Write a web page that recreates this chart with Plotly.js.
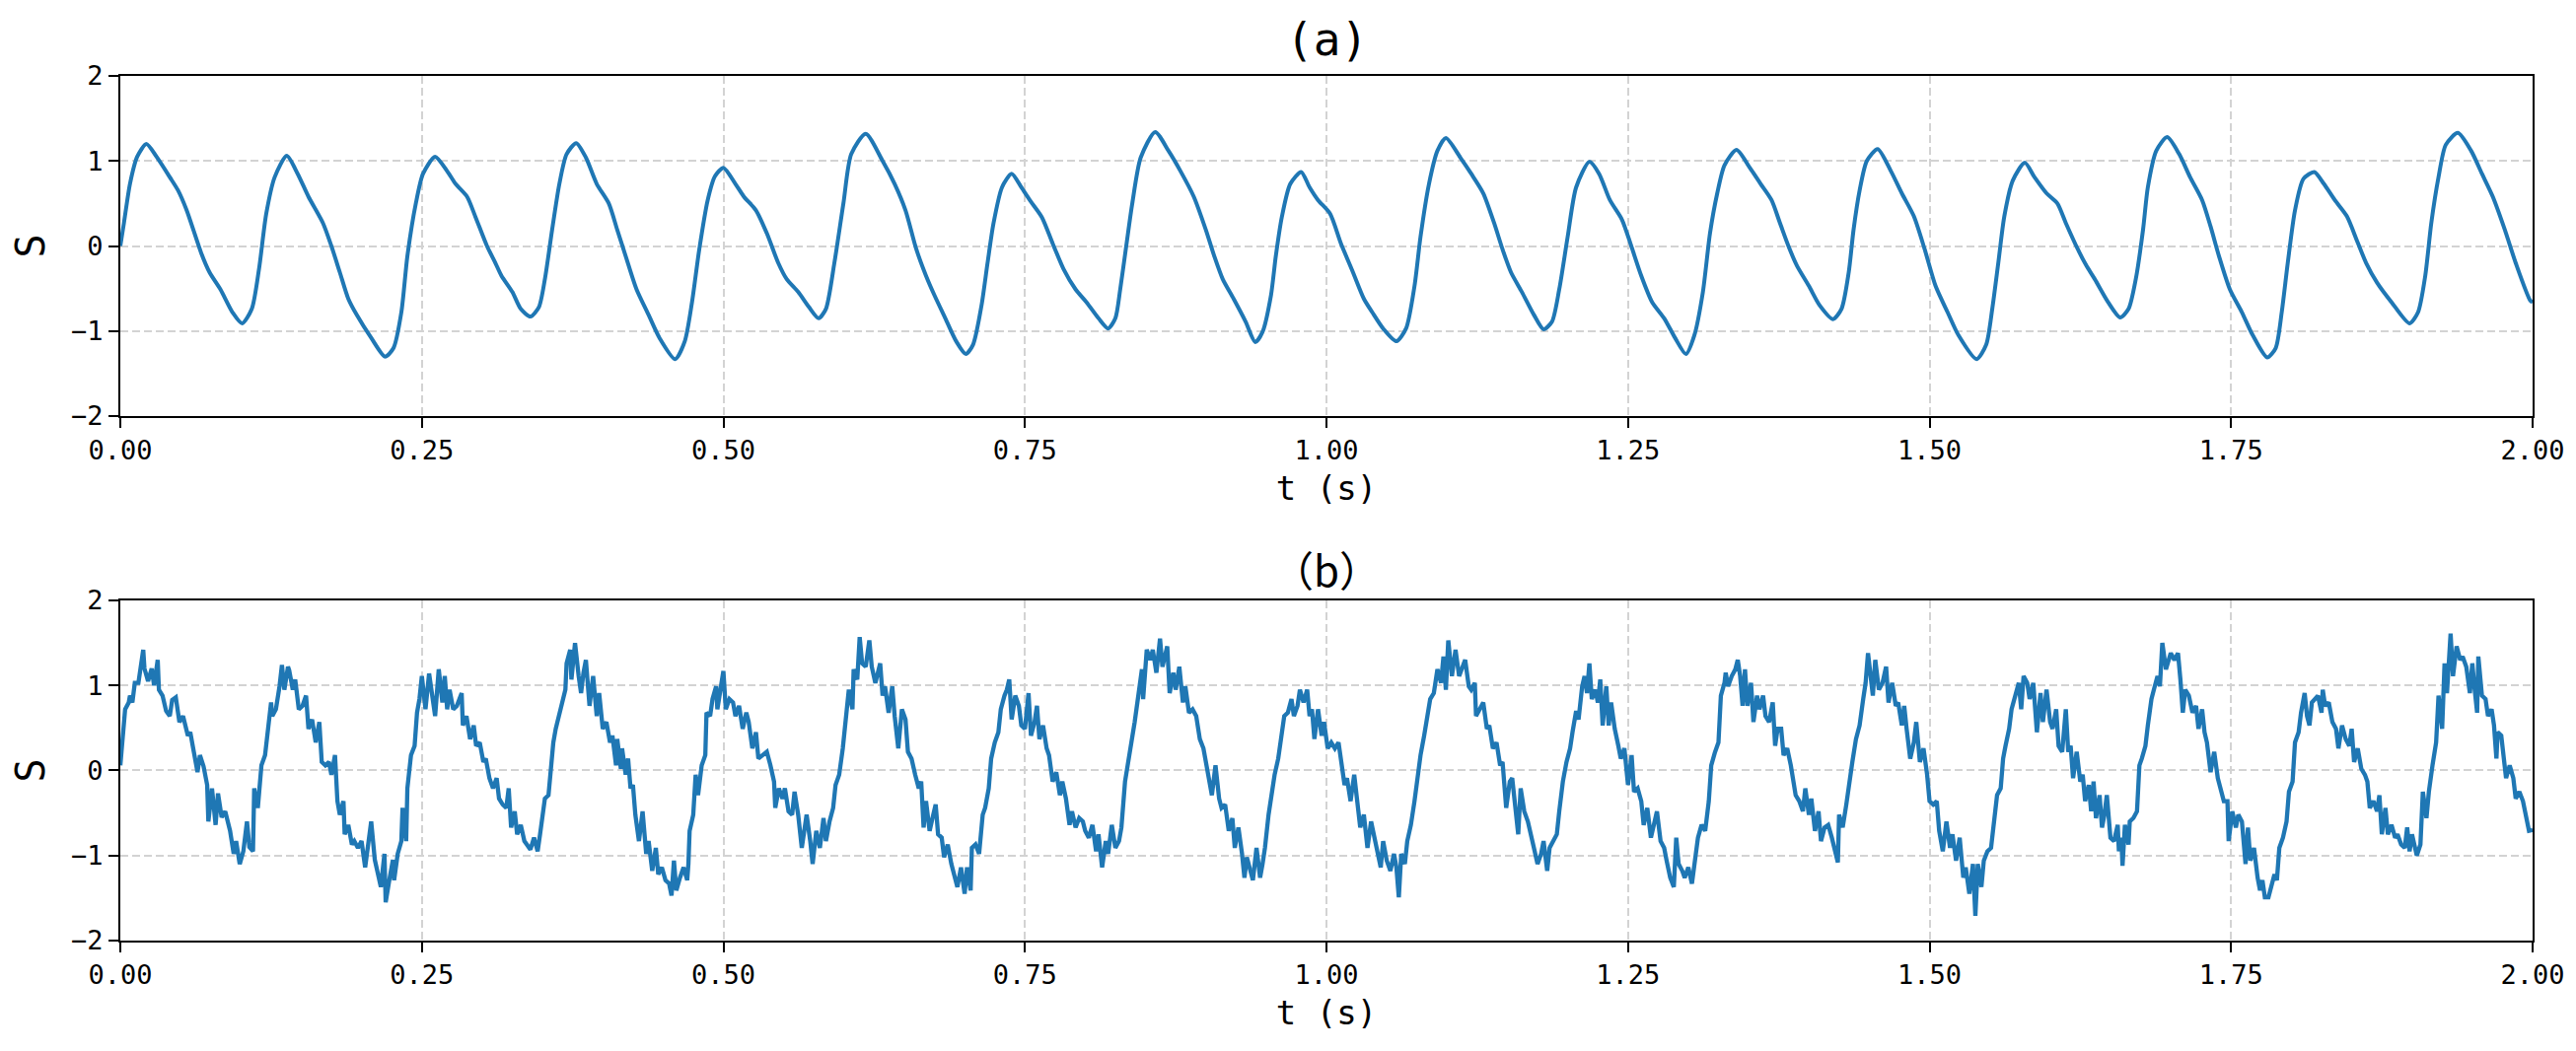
<!DOCTYPE html>
<html>
<head>
<meta charset="utf-8">
<script src="https://cdn.plot.ly/plotly-3.0.1.min.js"></script>
<style>html,body{margin:0;padding:0;background:#fff;}#chart{width:2612px;height:1066px;}</style>
</head>
<body>
<div id="chart"></div>
<script>
// ---- Panel (a): clean signal ----
const tA = [0.000,0.003,0.008,0.014,0.0216,0.030,0.041,0.048,0.055,0.067,0.074,0.083,0.093,0.101,0.109,0.115,0.121,0.128,0.138,
0.147,0.156,0.168,0.175,0.182,0.189,0.196,0.208,0.2195,0.2265,0.233,0.238,0.245,0.251,0.261,
0.271,0.278,0.2875,0.2945,0.304,0.311,0.316,0.325,0.332,0.340,0.347,0.352,0.358,0.364,0.370,0.378,
0.386,0.395,0.405,0.412,0.419,0.428,0.438,0.447,0.460,0.468,0.474,0.480,0.487,0.493,0.500,
0.510,0.517,0.527,0.536,0.5455,0.5525,0.562,0.571,0.579,0.585,0.592,0.5995,0.606,0.618,
0.632,0.642,0.651,0.660,0.668,0.675,0.684,0.693,0.701,0.707,0.714,0.719,0.724,0.731,0.739,
0.747,0.754,0.764,0.773,0.782,0.792,0.801,0.811,0.819,0.825,0.829,0.834,0.839,0.846,0.858,
0.869,0.879,0.890,0.900,0.907,0.914,0.923,0.933,0.941,0.947,0.954,0.958,0.963,0.970,0.979,
0.986,0.993,1.003,1.012,1.022,1.031,1.038,1.047,1.058,1.066,1.073,1.078,1.085,1.092,1.099,
1.111,1.120,1.130,1.139,1.146,1.153,1.162,1.172,1.180,1.187,1.193,1.200,1.207,1.218,
1.226,1.235,1.245,1.252,1.261,1.270,1.280,1.289,1.298,1.305,1.312,1.318,1.324,1.330,1.340,
1.351,1.360,1.369,1.376,1.383,1.390,1.400,1.409,1.420,1.427,1.433,1.437,1.442,1.448,1.457,
1.468,1.477,1.487,1.496,1.505,1.515,1.524,1.539,1.547,1.552,1.557,1.562,1.569,1.579,
1.587,1.597,1.606,1.613,1.623,1.630,1.637,1.648,1.658,1.665,1.671,1.677,1.681,1.688,1.697,
1.707,1.716,1.726,1.733,1.740,1.749,1.759,1.768,1.780,1.787,1.792,1.797,1.803,1.810,1.819,
1.827,1.836,1.846,1.855,1.862,1.871,1.883,1.898,1.905,1.911,1.916,1.922,1.928,1.938,
1.949,1.958,1.967,1.977,1.986,1.998,2.000];
const sA = [0.00,0.27,0.73,1.05,1.20,1.05,0.81,0.65,0.42,-0.08,-0.31,-0.51,-0.78,-0.91,-0.74,-0.27,0.38,0.81,1.06,
0.85,0.58,0.27,0.00,-0.31,-0.62,-0.81,-1.08,-1.30,-1.20,-0.78,-0.12,0.50,0.85,1.05,
0.88,0.73,0.58,0.34,0.00,-0.20,-0.35,-0.54,-0.74,-0.83,-0.72,-0.39,0.19,0.73,1.08,1.21,
1.04,0.73,0.50,0.19,-0.12,-0.51,-0.81,-1.08,-1.33,-1.12,-0.66,-0.04,0.54,0.82,0.92,
0.73,0.58,0.42,0.15,-0.20,-0.39,-0.54,-0.72,-0.85,-0.74,-0.20,0.50,1.08,1.32,
1.00,0.73,0.42,-0.04,-0.35,-0.58,-0.85,-1.12,-1.27,-1.16,-0.70,-0.20,0.27,0.69,0.85,
0.69,0.54,0.34,0.03,-0.27,-0.51,-0.66,-0.85,-0.97,-0.85,-0.51,0.00,0.50,1.04,1.34,
1.12,0.88,0.58,0.19,-0.12,-0.39,-0.62,-0.89,-1.13,-1.01,-0.58,-0.12,0.34,0.73,0.87,
0.69,0.54,0.38,0.03,-0.31,-0.62,-0.78,-0.97,-1.12,-0.97,-0.47,0.11,0.73,1.12,1.27,
1.04,0.85,0.62,0.27,-0.04,-0.31,-0.54,-0.81,-0.98,-0.89,-0.51,0.11,0.69,0.99,
0.85,0.54,0.31,0.03,-0.35,-0.66,-0.85,-1.08,-1.27,-1.05,-0.55,0.15,0.62,0.95,1.13,
0.92,0.73,0.54,0.27,0.00,-0.23,-0.47,-0.70,-0.86,-0.74,-0.31,0.19,0.65,1.00,1.14,
0.88,0.62,0.35,-0.04,-0.47,-0.78,-1.05,-1.33,-1.16,-0.74,-0.20,0.35,0.77,0.98,
0.81,0.62,0.50,0.27,-0.04,-0.23,-0.39,-0.66,-0.84,-0.74,-0.39,0.19,0.69,1.12,1.28,
1.08,0.81,0.54,0.23,-0.12,-0.51,-0.78,-1.05,-1.31,-1.20,-0.78,-0.20,0.42,0.79,0.87,
0.73,0.54,0.35,0.04,-0.20,-0.43,-0.66,-0.91,-0.78,-0.35,0.27,0.81,1.19,1.33,
1.12,0.85,0.58,0.19,-0.20,-0.64,-0.66];

// ---- Panel (b): noisy signal ----
const tB = [0.000,0.001,0.003,0.004,0.007,0.008,0.010,0.012,0.015,0.017,0.019,0.020,0.023,0.026,0.028,0.031,0.032,0.035,0.038,0.041,
0.043,0.046,0.049,0.052,0.056,0.058,0.061,0.064,0.066,0.069,0.072,0.073,0.076,0.079,0.081,0.084,0.087,0.091,0.094,0.096,
0.099,0.102,0.105,0.107,0.110,0.111,0.114,0.117,0.120,0.122,0.125,0.126,0.129,0.132,0.134,0.136,0.139,0.140,0.143,0.145,
0.148,0.151,0.154,0.156,0.159,0.162,0.165,0.167,0.170,0.173,0.175,0.178,0.180,0.182,0.185,0.186,0.189,0.192,0.194,0.197,
0.200,0.203,0.205,0.208,0.211,0.214,0.216,0.219,0.220,0.223,0.226,0.227,0.230,0.233,0.234,0.237,0.238,0.241,0.244,0.246,
0.248,0.250,0.253,0.256,0.258,0.261,0.264,0.267,0.269,0.271,0.273,0.276,0.279,0.283,0.284,0.287,0.290,0.293,0.295,0.298,
0.301,0.303,0.306,0.309,0.312,0.314,0.317,0.320,0.322,0.324,0.327,0.329,0.332,0.335,0.337,0.340,0.343,0.346,0.348,0.350,
0.352,0.355,0.357,0.359,0.361,0.363,0.366,0.369,0.370,0.373,0.374,0.377,0.380,0.382,0.384,0.386,0.389,0.392,0.395,0.397,
0.400,0.403,0.406,0.408,0.411,0.412,0.415,0.416,0.419,0.421,0.423,0.425,0.427,0.430,0.433,0.436,0.438,0.441,0.444,0.446,
0.449,0.452,0.455,0.457,0.459,0.461,0.464,0.467,0.470,0.471,0.472,0.475,0.477,0.479,0.482,0.485,0.486,0.489,0.491,0.494,
0.495,0.498,0.500,0.502,0.505,0.508,0.510,0.513,0.516,0.519,0.521,0.524,0.527,0.529,0.532,0.536,0.539,0.542,0.543,0.546,
0.549,0.551,0.554,0.557,0.559,0.562,0.565,0.568,0.569,0.572,0.574,0.577,0.580,0.583,0.585,0.588,0.591,0.593,0.596,0.599,
0.602,0.604,0.607,0.608,0.611,0.613,0.615,0.618,0.621,0.623,0.626,0.630,0.632,0.634,0.637,0.640,0.642,0.645,0.648,0.651,
0.653,0.656,0.659,0.662,0.664,0.666,0.668,0.671,0.674,0.676,0.678,0.681,0.683,0.686,0.689,0.691,0.694,0.697,0.700,0.702,
0.705,0.706,0.709,0.712,0.715,0.717,0.720,0.722,0.725,0.728,0.730,0.733,0.735,0.737,0.739,0.742,0.745,0.747,0.750,0.753,
0.755,0.758,0.760,0.762,0.765,0.768,0.770,0.773,0.776,0.779,0.781,0.784,0.787,0.789,0.792,0.795,0.798,0.800,0.803,0.806,
0.809,0.811,0.814,0.817,0.819,0.822,0.825,0.828,0.830,0.833,0.836,0.839,0.841,0.844,0.847,0.848,0.851,0.854,0.856,0.859,
0.862,0.864,0.868,0.870,0.873,0.875,0.878,0.881,0.883,0.886,0.889,0.892,0.895,0.898,0.900,0.903,0.905,0.908,0.911,0.913,
0.916,0.919,0.922,0.924,0.927,0.930,0.932,0.934,0.937,0.939,0.942,0.945,0.947,0.949,0.952,0.954,0.957,0.960,0.962,0.965,
0.968,0.971,0.973,0.976,0.978,0.981,0.984,0.986,0.988,0.990,0.993,0.996,0.998,1.001,1.004,1.007,1.010,1.013,1.015,1.017,
1.020,1.023,1.026,1.028,1.031,1.034,1.037,1.039,1.042,1.045,1.047,1.050,1.053,1.056,1.058,1.060,1.062,1.065,1.067,1.070,
1.073,1.075,1.078,1.081,1.084,1.086,1.089,1.092,1.095,1.097,1.099,1.101,1.104,1.107,1.110,1.112,1.115,1.118,1.120,1.123,
1.124,1.127,1.130,1.133,1.135,1.138,1.141,1.144,1.146,1.149,1.152,1.154,1.157,1.159,1.161,1.164,1.167,1.169,1.172,1.175,
1.178,1.180,1.183,1.185,1.188,1.191,1.193,1.196,1.199,1.202,1.204,1.207,1.209,1.212,1.214,1.216,1.218,1.220,1.223,1.225,
1.227,1.229,1.232,1.234,1.236,1.239,1.242,1.244,1.247,1.250,1.253,1.255,1.258,1.261,1.263,1.266,1.269,1.272,1.274,1.277,
1.280,1.282,1.285,1.288,1.290,1.292,1.295,1.297,1.300,1.303,1.306,1.308,1.311,1.314,1.317,1.319,1.322,1.325,1.327,1.330,
1.331,1.333,1.336,1.339,1.341,1.343,1.345,1.347,1.349,1.352,1.354,1.357,1.359,1.362,1.364,1.367,1.370,1.372,1.374,1.377,
1.379,1.382,1.385,1.387,1.389,1.392,1.395,1.397,1.400,1.402,1.405,1.408,1.410,1.413,1.416,1.419,1.421,1.424,1.425,1.428,
1.431,1.434,1.436,1.439,1.442,1.445,1.447,1.449,1.451,1.453,1.455,1.458,1.461,1.464,1.466,1.469,1.472,1.474,1.477,1.479,
1.481,1.484,1.487,1.489,1.492,1.495,1.498,1.500,1.503,1.506,1.508,1.511,1.514,1.517,1.519,1.522,1.525,1.528,1.530,1.533,
1.536,1.538,1.540,1.543,1.545,1.548,1.551,1.553,1.556,1.559,1.561,1.563,1.566,1.568,1.571,1.574,1.576,1.578,1.581,1.583,
1.586,1.589,1.592,1.594,1.597,1.600,1.602,1.605,1.607,1.610,1.613,1.615,1.617,1.619,1.622,1.625,1.627,1.629,1.632,1.634,
1.636,1.638,1.641,1.643,1.645,1.647,1.650,1.653,1.656,1.657,1.659,1.660,1.662,1.665,1.666,1.669,1.672,1.674,1.676,1.679,
1.681,1.684,1.686,1.689,1.691,1.693,1.696,1.698,1.700,1.703,1.706,1.708,1.710,1.712,1.715,1.718,1.721,1.723,1.726,1.728,
1.730,1.733,1.736,1.739,1.741,1.744,1.747,1.748,1.751,1.754,1.756,1.759,1.762,1.764,1.766,1.769,1.772,1.774,1.776,1.778,
1.781,1.784,1.786,1.788,1.790,1.793,1.796,1.798,1.801,1.803,1.806,1.808,1.811,1.813,1.815,1.817,1.820,1.822,1.825,1.826,
1.828,1.831,1.834,1.837,1.839,1.842,1.845,1.848,1.850,1.852,1.855,1.858,1.861,1.863,1.865,1.868,1.871,1.873,1.875,1.878,
1.880,1.883,1.886,1.888,1.891,1.894,1.896,1.898,1.900,1.903,1.904,1.907,1.909,1.912,1.914,1.917,1.920,1.922,1.925,1.927,
1.929,1.932,1.934,1.937,1.940,1.942,1.945,1.948,1.950,1.952,1.954,1.955,1.958,1.961,1.963,1.966,1.968,1.970,1.971,1.974,
1.976,1.978,1.981,1.984,1.986,1.989,1.992,1.995,1.997,2.000];
const sB = [0.06,0.20,0.49,0.72,0.80,0.88,0.80,1.03,1.03,1.22,1.42,1.20,1.05,1.20,1.00,1.30,0.95,0.88,0.70,0.64,
0.83,0.86,0.57,0.64,0.41,0.45,0.20,-0.02,0.18,0.05,-0.17,-0.60,-0.21,-0.64,-0.27,-0.55,-0.48,-0.71,-0.98,-0.83,
-1.10,-0.95,-0.60,-0.90,-0.95,-0.21,-0.44,0.06,0.18,0.45,0.80,0.64,0.72,0.99,1.24,0.95,1.22,1.18,0.95,1.07,
0.72,0.76,0.88,0.49,0.60,0.33,0.57,0.10,0.06,0.10,-0.05,0.18,-0.36,-0.52,-0.36,-0.75,-0.64,-0.87,-0.83,-0.91,
-0.83,-1.14,-0.95,-0.60,-1.05,-1.22,-1.37,-0.98,-1.55,-1.29,-1.05,-1.29,-0.98,-0.83,-0.44,-0.83,-0.21,0.18,0.29,0.68,
0.84,1.11,0.72,1.14,0.95,0.64,1.19,0.80,1.11,0.72,0.95,0.72,0.76,0.91,0.53,0.64,0.37,0.53,0.29,0.33,
0.10,0.14,-0.09,-0.21,-0.09,-0.33,-0.40,-0.44,-0.21,-0.67,-0.48,-0.75,-0.64,-0.83,-0.87,-0.93,-0.79,-0.95,-0.75,-0.56,
-0.33,-0.29,0.02,0.33,0.49,0.60,0.80,0.95,1.26,1.42,1.07,1.50,1.11,0.91,1.15,1.30,0.76,1.11,0.64,0.91,
0.49,0.57,0.33,0.41,0.06,0.37,0.02,0.26,-0.05,0.14,-0.21,-0.17,-0.52,-0.83,-0.48,-0.98,-0.83,-1.18,-0.91,-1.22,
-1.14,-1.29,-1.33,-1.47,-1.06,-1.41,-1.26,-1.14,-1.29,-1.10,-0.71,-0.52,-0.05,-0.29,0.06,0.18,0.68,0.64,0.84,0.99,
0.72,0.95,1.17,0.72,0.84,0.80,0.64,0.76,0.49,0.68,0.57,0.26,0.45,0.14,0.18,0.22,0.06,-0.13,-0.44,-0.21,
-0.33,-0.21,-0.48,-0.52,-0.25,-0.52,-0.91,-0.67,-0.52,-0.83,-1.10,-0.71,-0.91,-0.56,-0.83,-0.60,-0.44,-0.17,-0.05,0.26,
0.68,0.95,0.72,1.19,1.07,1.57,1.26,1.22,1.53,1.22,1.03,1.26,0.88,0.99,0.68,0.99,0.64,0.26,0.72,0.60,
0.22,0.14,-0.05,-0.21,-0.13,-0.67,-0.36,-0.71,-0.52,-0.40,-0.75,-0.79,-1.02,-0.87,-1.10,-1.22,-1.37,-1.14,-1.45,-1.14,
-1.41,-0.91,-0.87,-0.98,-0.52,-0.44,-0.21,0.14,0.33,0.45,0.72,0.88,0.95,1.07,0.60,0.88,0.76,0.53,0.49,0.91,
0.41,0.57,0.76,0.37,0.53,0.26,0.18,-0.13,-0.02,-0.29,-0.13,-0.33,-0.64,-0.48,-0.67,-0.56,-0.60,-0.71,-0.79,-0.64,
-0.95,-0.75,-1.14,-0.83,-0.98,-0.64,-0.91,-0.83,-0.67,-0.13,0.14,0.33,0.57,0.88,1.19,0.84,1.42,1.30,1.42,1.15,
1.55,1.22,1.46,0.91,1.15,0.95,1.22,0.80,0.99,0.68,0.72,0.64,0.37,0.26,0.10,-0.13,-0.29,0.06,-0.33,-0.44,
-0.40,-0.71,-0.56,-0.91,-0.67,-0.98,-1.26,-1.02,-1.18,-1.29,-0.91,-1.26,-1.10,-0.91,-0.52,-0.33,-0.05,0.14,0.33,0.64,
0.68,0.84,0.64,0.76,0.95,0.80,0.95,0.64,0.72,0.37,0.72,0.41,0.57,0.26,0.33,0.26,0.33,0.06,-0.17,-0.09,
-0.36,-0.05,-0.48,-0.67,-0.52,-0.91,-0.60,-0.75,-0.91,-1.14,-0.83,-1.06,-1.18,-0.98,-1.14,-1.49,-0.98,-1.10,-0.83,-0.64,
-0.36,-0.13,0.18,0.41,0.72,0.84,0.91,1.19,1.03,1.34,0.95,1.53,1.11,1.42,1.11,1.19,1.30,0.99,0.95,1.03,
0.64,0.72,0.80,0.49,0.53,0.26,0.33,0.06,0.10,-0.44,-0.13,-0.09,-0.44,-0.75,-0.21,-0.48,-0.60,-0.75,-0.91,-1.10,
-0.98,-0.83,-1.18,-0.91,-0.83,-0.75,-0.48,-0.13,0.10,0.26,0.45,0.70,0.60,0.99,1.11,0.91,1.26,0.84,0.95,0.80,
1.07,0.53,0.99,0.53,0.80,0.49,0.29,0.14,0.26,-0.17,0.18,-0.25,-0.21,-0.36,-0.64,-0.44,-0.79,-0.60,-0.48,-0.83,
-0.91,-1.06,-1.26,-1.37,-0.79,-1.10,-1.18,-1.26,-1.14,-1.33,-0.95,-0.79,-0.64,-0.71,-0.36,0.06,0.21,0.33,0.88,1.03,
1.15,0.99,1.11,1.19,1.30,1.11,0.76,1.19,0.76,1.03,0.57,0.88,0.72,0.88,0.64,0.57,0.80,0.29,0.49,0.49,
0.18,0.26,0.06,-0.13,-0.29,-0.36,-0.48,-0.21,-0.52,-0.33,-0.71,-0.48,-0.83,-0.67,-0.64,-0.79,-0.91,-1.08,-0.52,-0.67,
-0.40,-0.05,0.10,0.37,0.53,0.84,1.03,1.38,1.11,0.88,1.30,0.95,1.03,1.22,0.80,1.03,0.76,0.80,0.53,0.76,
0.49,0.14,0.33,0.57,0.10,0.26,-0.05,-0.36,-0.40,-0.36,-0.71,-0.95,-0.60,-0.91,-0.75,-1.06,-0.79,-1.26,-1.14,-1.45,
-1.10,-1.71,-1.10,-1.37,-1.06,-0.95,-0.91,-0.64,-0.29,-0.21,0.14,0.29,0.49,0.72,0.88,1.03,0.72,1.11,1.03,0.84,
1.03,0.45,0.91,0.57,0.95,0.57,0.49,0.72,0.29,0.22,0.72,0.22,0.29,-0.09,0.22,-0.13,-0.05,-0.36,-0.17,-0.48,
-0.13,-0.56,-0.29,-0.67,-0.52,-0.29,-0.79,-0.83,-0.64,-0.95,-0.79,-1.12,-0.64,-0.87,-0.60,-0.56,-0.48,0.06,0.14,0.29,
0.53,0.84,0.95,1.11,0.99,1.50,1.19,1.30,1.38,1.30,1.38,1.07,0.68,0.95,0.88,0.68,0.76,0.49,0.72,0.45,
0.33,-0.02,0.22,-0.09,-0.21,-0.36,-0.36,-0.83,-0.48,-0.67,-0.52,-0.60,-1.10,-0.67,-1.06,-0.91,-1.26,-1.41,-1.29,-1.49,
-1.49,-1.33,-1.22,-1.29,-0.91,-0.79,-0.60,-0.25,-0.13,0.33,0.45,0.68,0.91,0.64,0.53,0.80,0.84,0.88,0.68,0.95,
0.76,0.80,0.57,0.49,0.26,0.53,0.37,0.29,0.49,0.10,0.26,0.02,-0.05,-0.13,-0.44,-0.36,-0.48,-0.29,-0.75,-0.44,
-0.75,-0.64,-0.79,-0.75,-0.87,-0.91,-0.67,-0.95,-0.75,-0.91,-1.00,-0.87,-0.25,-0.56,-0.25,0.06,0.33,0.88,0.49,1.26,
0.91,1.61,1.11,1.46,1.30,1.34,1.22,0.91,1.26,0.95,0.68,1.34,0.88,0.84,0.64,0.72,0.53,0.14,0.45,0.41,
0.18,-0.09,0.06,-0.09,-0.33,-0.25,-0.36,-0.60,-0.71,-0.70];

// ---- Axis ticks ----
const xTickVals = [0, 0.25, 0.5, 0.75, 1.0, 1.25, 1.5, 1.75, 2.0];
const xTickText = ["0.00","0.25","0.50","0.75","1.00","1.25","1.50","1.75","2.00"];
const yTickVals = [-2, -1, 0, 1, 2];
const yTickText = ["\u22122","\u22121","0","1","2"];
const panelTitles = ["(a)", "\uff08b\uff09"];
const xLabel = "t (s)";
const yLabel = "S";

const FONT = "DejaVu Sans Mono, Noto Sans CJK SC, monospace";
const CJK_FONT = "Noto Sans CJK SC, DejaVu Sans Mono, sans-serif";
const LINE = "#1f77b4";
const GRID = "#d3d3d3";

function xaxisDef(anchor) {
  return {
    anchor: anchor, range: [0, 2], tickvals: xTickVals, ticktext: xTickText,
    ticks: "outside", ticklen: 10, tickwidth: 2, tickcolor: "#000",
    showline: true, linecolor: "#000", linewidth: 2, mirror: true,
    showgrid: true, gridcolor: GRID, gridwidth: 2, griddash: "8px,4px",
    zeroline: false, tickfont: {family: FONT, size: 27, color: "#000"},
    title: {text: xLabel, font: {family: FONT, size: 34, color: "#000"}, standoff: 12}
  };
}
function yaxisDef(anchor, domain) {
  return {
    anchor: anchor, domain: domain, range: [-2, 2], tickvals: yTickVals, ticktext: yTickText,
    ticks: "outside", ticklen: 10, tickwidth: 2, tickcolor: "#000",
    showline: true, linecolor: "#000", linewidth: 2, mirror: true,
    showgrid: true, gridcolor: GRID, gridwidth: 2, griddash: "8px,4px",
    zeroline: false, tickfont: {family: FONT, size: 27, color: "#000"},
    title: {text: yLabel, font: {family: FONT, size: 40, color: "#000"}, standoff: 14}
  };
}

const traces = [
  {x: tA, y: sA, xaxis: "x", yaxis: "y", type: "scatter", mode: "lines",
   line: {color: LINE, width: 4, shape: "spline", smoothing: 0.7}, hoverinfo: "skip"},
  {x: tB, y: sB, xaxis: "x2", yaxis: "y2", type: "scatter", mode: "lines",
   line: {color: LINE, width: 4.3}, hoverinfo: "skip"}
];

const layout = {
  width: 2612, height: 1066,
  margin: {l: 122, r: 44, t: 77, b: 112},
  paper_bgcolor: "#fff", plot_bgcolor: "#fff",
  showlegend: false,
  xaxis: xaxisDef("y"),
  yaxis: yaxisDef("x", [0.6066, 1]),
  xaxis2: xaxisDef("y2"),
  yaxis2: yaxisDef("x2", [0, 0.3934]),
  annotations: [
    {text: panelTitles[0], xref: "paper", yref: "paper", x: 0.5, y: 1.042, showarrow: false,
     xanchor: "center", yanchor: "middle", font: {family: FONT, size: 46, color: "#000"}},
    {text: panelTitles[1], xref: "paper", yref: "paper", x: 0.5, y: 0.430, showarrow: false,
     xanchor: "center", yanchor: "middle", font: {family: CJK_FONT, size: 42, color: "#000"}}
  ]
};

Plotly.newPlot("chart", traces, layout, {staticPlot: true, displayModeBar: false});
</script>
</body>
</html>
